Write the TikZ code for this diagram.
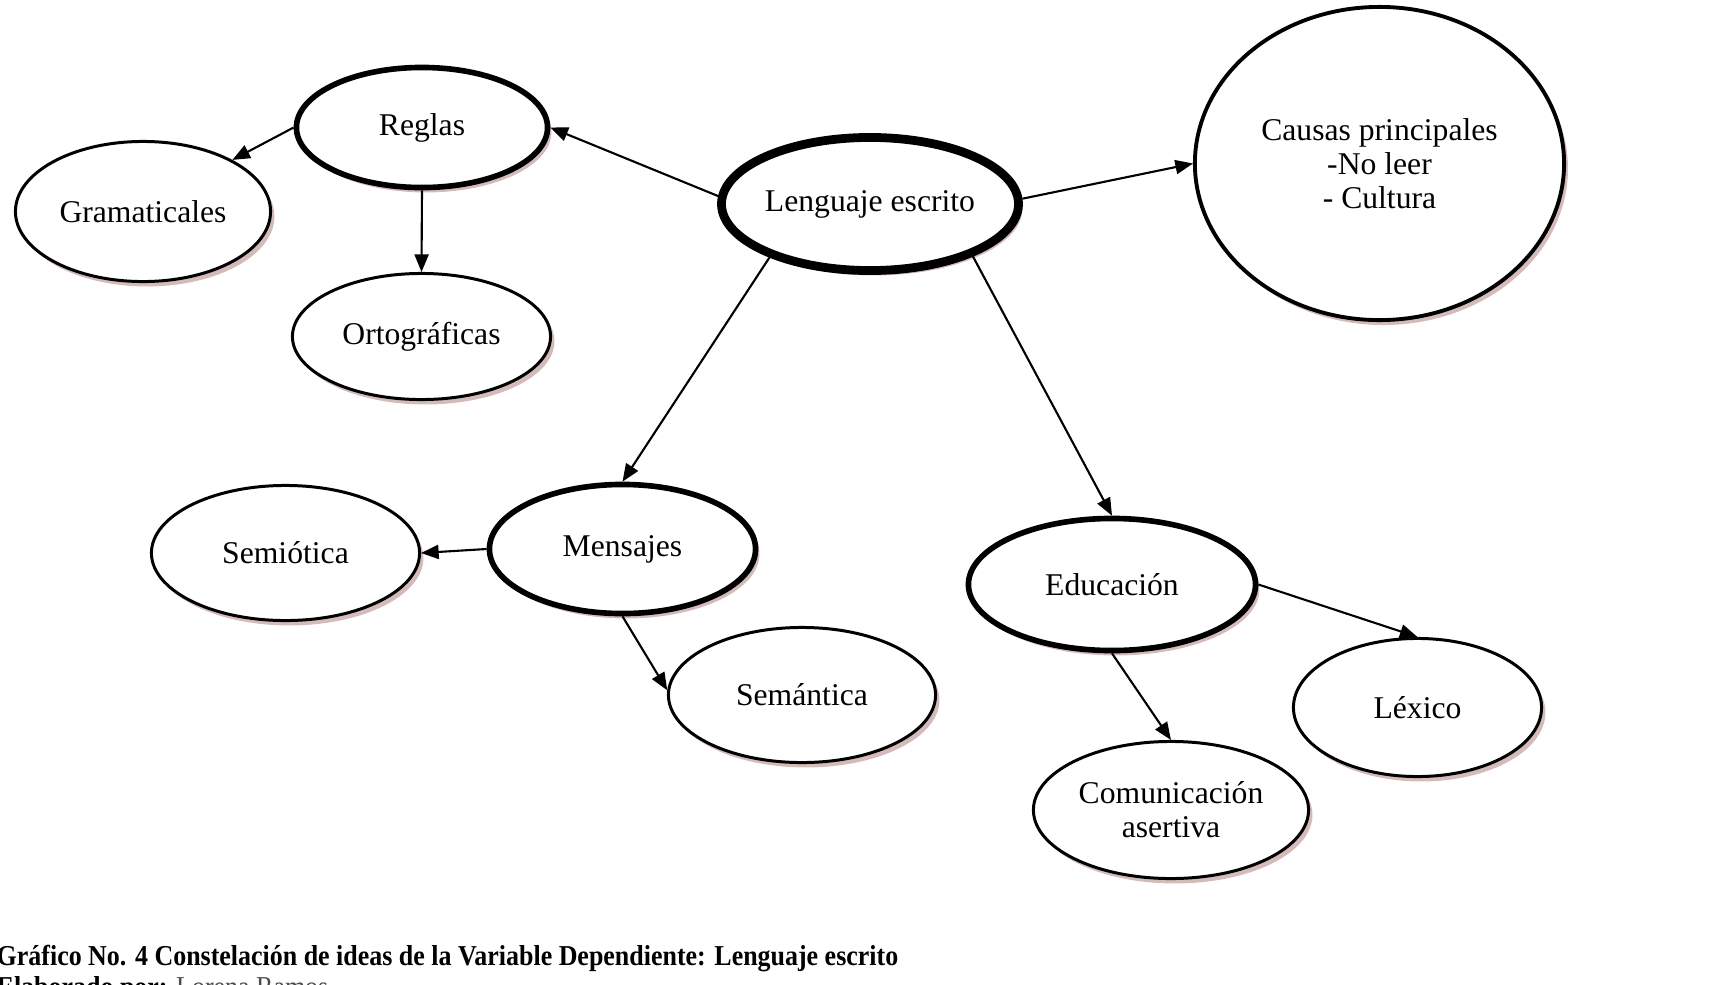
\documentclass[tikz,border=0pt]{standalone}
\usepackage{fontspec}
\setmainfont{Liberation Serif}
\usepackage{tikz}
\usetikzlibrary{arrows.meta, shapes.geometric, shadows}
\definecolor{sombra}{RGB}{185,140,140}

\begin{document}
\begin{tikzpicture}[x = 0.01cm, y = -0.01cm,
    idea/.style = {ellipse, draw, fill = white, inner sep = 0pt, align = center,
        font = \fontsize{9}{9.7}\selectfont, line width = 0.85pt,
        drop shadow = {shadow xshift = 1.1pt, shadow yshift = -1.4pt, fill = sombra, opacity = 0.6}},
    ideagruesa/.style = {idea, line width = 1.6pt},
    flecha/.style = {-{Triangle[length = 5pt, width = 4pt]}, line width = 0.6pt}]
    % Marco
    \useasboundingbox (0,0) rectangle (1735,984);
    % Nodo central
    \node[idea, line width = 2.5pt, minimum width = 2.95cm, minimum height = 1.33cm] (lenguaje) at (870,204) {Lenguaje escrito};
    \node[idea, line width = 1.1pt, minimum width = 3.69cm, minimum height = 3.13cm] (causas) at (1379.5,163.5) {Causas principales\\-No leer\\- Cultura};
    % Reglas
    \node[ideagruesa, minimum width = 2.51cm, minimum height = 1.20cm] (reglas) at (422,127.5) {Reglas};
    \node[idea, minimum width = 2.55cm, minimum height = 1.40cm] (gramaticales) at (143,211.5) {Gramaticales};
    \node[idea, minimum width = 2.58cm, minimum height = 1.26cm] (ortograficas) at (421.5,336.5) {Ortográficas};
    % Mensajes
    \node[ideagruesa, minimum width = 2.66cm, minimum height = 1.29cm] (mensajes) at (622.5,549) {Mensajes};
    \node[idea, minimum width = 2.68cm, minimum height = 1.35cm] (semiotica) at (285.5,553) {Semiótica};
    \node[idea, minimum width = 2.67cm, minimum height = 1.35cm] (semantica) at (802,695) {Semántica};
    % Educacion
    \node[ideagruesa, minimum width = 2.87cm, minimum height = 1.32cm] (educacion) at (1112,584.5) {Educación};
    \node[idea, minimum width = 2.48cm, minimum height = 1.38cm] (lexico) at (1417.5,707.5) {Léxico};
    \node[idea, minimum width = 2.75cm, minimum height = 1.37cm] (comunicacion) at (1171,810) {Comunicación\\asertiva};
    % Flechas
    \draw[flecha] (lenguaje.177) -- (reglas.east);
    \draw[flecha] (lenguaje.2) -- (causas.west);
    \draw[flecha] (lenguaje.208) -- (mensajes.north);
    \draw[flecha] (lenguaje.333) -- (educacion.north);
    \draw[flecha] (reglas.west) -- (gramaticales.30);
    \draw[flecha] (reglas.south) -- (ortograficas.north);
    \draw[flecha] (mensajes.west) -- (semiotica.east);
    \draw[flecha] (mensajes.south) -- (semantica.178);
    \draw[flecha] (educacion.east) -- (lexico.north);
    \draw[flecha] (educacion.south) -- (comunicacion.north);
    % Pie
    \node[anchor = base west, inner sep = 0pt, font = \fontsize{8.2}{9}\selectfont\bfseries] (titulo) at (-4,965)
        {\scalebox{0.9}[1]{Gráfico No. 4 Constelación de ideas de la Variable Dependiente: Lenguaje escrito}};
    \node[anchor = base west, inner sep = 0pt, font = \fontsize{8.2}{9}\selectfont\bfseries] (autor) at (-4,996)
        {\scalebox{0.9}[1]{Elaborado por: \textmd{\color{black!70}Lorena Ramos}}};
\end{tikzpicture}
\end{document}
